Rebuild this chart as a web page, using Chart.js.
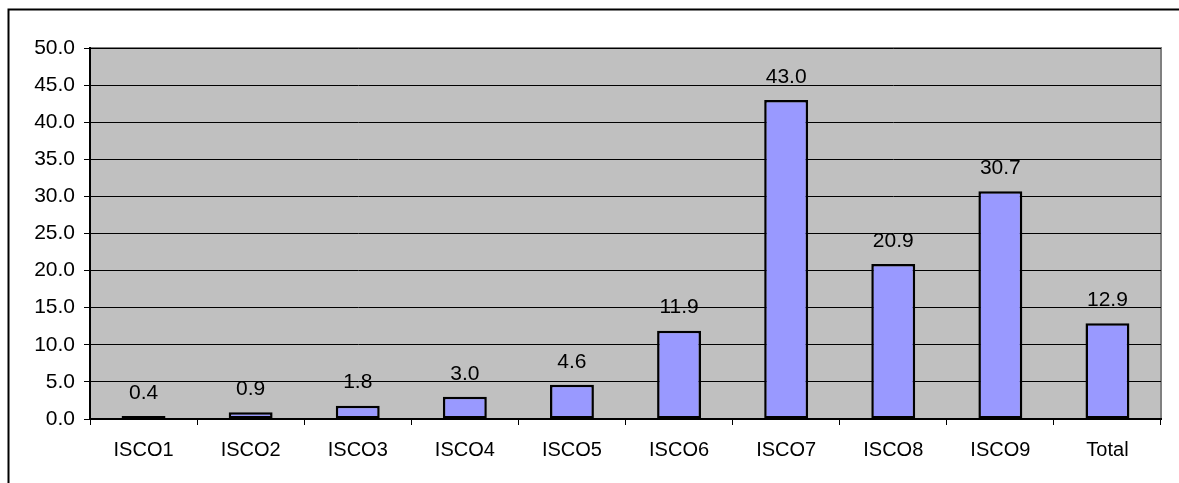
<!DOCTYPE html>
<html>
<head>
<meta charset="utf-8">
<style>
  html, body { margin: 0; padding: 0; background: #ffffff; }
  #wrap { width: 1179px; height: 483px; position: relative; }
</style>
<script src="https://cdn.jsdelivr.net/npm/chart.js@4.4.1/dist/chart.umd.min.js"></script>
</head>
<body>
<div id="wrap"><canvas id="c" width="1179" height="483"></canvas></div>
<script>
// Occupation groups and their values
const categories = ['ISCO1', 'ISCO2', 'ISCO3', 'ISCO4', 'ISCO5', 'ISCO6', 'ISCO7', 'ISCO8', 'ISCO9', 'Total'];
const values = [0.4, 0.9, 1.8, 3.0, 4.6, 11.9, 43.0, 20.9, 30.7, 12.9];
const yTicks = [0, 5, 10, 15, 20, 25, 30, 35, 40, 45, 50];

const FONT = "'Liberation Sans', Arial, sans-serif";

// Gray plot background with a gray frame, plus the outer frame lines
const plotBackground = {
  id: 'plotBackground',
  beforeDraw(chart) {
    const { ctx, chartArea: a } = chart;
    ctx.save();
    ctx.fillStyle = '#ffffff';
    ctx.fillRect(0, 0, chart.width, chart.height);
    ctx.strokeStyle = '#000000';
    ctx.lineWidth = 2;
    ctx.beginPath();
    ctx.moveTo(8.5, chart.height + 2);
    ctx.lineTo(8.5, 9.5);
    ctx.lineTo(chart.width + 2, 9.5);
    ctx.stroke();
    ctx.fillStyle = '#C0C0C0';
    ctx.fillRect(a.left, a.top, a.right - a.left, a.bottom - a.top);
    ctx.strokeStyle = '#808080';
    ctx.lineWidth = 2;
    ctx.strokeRect(a.left, a.top, a.right - a.left, a.bottom - a.top);
    ctx.restore();
  }
};

// Value text above each bar
const valueLabels = {
  id: 'valueLabels',
  afterDatasetsDraw(chart) {
    const { ctx } = chart;
    const meta = chart.getDatasetMeta(0);
    ctx.save();
    ctx.font = '21px ' + FONT;
    ctx.fillStyle = '#000000';
    ctx.textAlign = 'center';
    ctx.textBaseline = 'middle';
    meta.data.forEach((bar, i) => {
      ctx.fillText(values[i].toFixed(1), bar.x, bar.y - 23);
    });
    ctx.restore();
  }
};

new Chart(document.getElementById('c'), {
  type: 'bar',
  data: {
    labels: categories,
    datasets: [{
      data: values,
      backgroundColor: '#9999FF',
      borderColor: '#000000',
      borderWidth: 2.5,
      borderSkipped: false,
      barPercentage: 0.41,
      categoryPercentage: 1.0
    }]
  },
  options: {
    responsive: false,
    animation: false,
    devicePixelRatio: 1,
    layout: { padding: { left: 0, top: 48, right: 18, bottom: 0 } },
    plugins: { legend: { display: false }, tooltip: { enabled: false } },
    scales: {
      x: {
        afterFit(s) { s.height = 64; },
        grid: { drawOnChartArea: false, drawTicks: true, tickLength: 6, color: '#000000', lineWidth: 1 },
        border: { display: true, color: '#000000', width: 2 },
        ticks: { color: '#000000', font: { family: FONT, size: 20 }, padding: 13, maxRotation: 0, autoSkip: false }
      },
      y: {
        min: 0,
        max: 50,
        afterFit(s) { s.width = 90; },
        afterBuildTicks(s) { s.ticks = yTicks.map(v => ({ value: v })); },
        grid: { color: '#000000', lineWidth: 1, tickLength: 6, drawTicks: true },
        border: { display: true, color: '#000000', width: 2 },
        ticks: {
          color: '#000000',
          font: { family: FONT, size: 21 },
          padding: 9,
          callback: v => Number(v).toFixed(1)
        }
      }
    }
  },
  plugins: [plotBackground, valueLabels]
});
</script>
</body>
</html>
